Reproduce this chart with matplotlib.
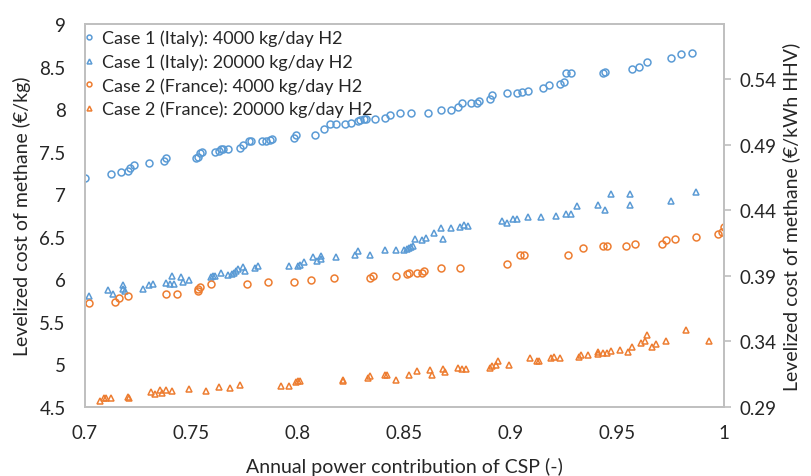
"""Levelized cost of methane vs annual CSP power contribution (4 cases)."""
import numpy as np
import matplotlib
matplotlib.use('Agg')
import matplotlib.pyplot as plt

plt.rcParams['font.family'] = ['Lato', 'DejaVu Sans']

BLUE = '#5B9BD5'
ORANGE = '#ED7D31'
TXT = '#262626'
GRID = '#BFBFBF'

## Case 1 (Italy): 4000 kg/day H2
italy_4000_x = [0.700, 0.712, 0.717, 0.720, 0.721, 0.723, 0.730, 0.737, 0.738, 0.752,
                0.753, 0.754, 0.755, 0.761, 0.763, 0.764, 0.765, 0.767, 0.773, 0.774,
                0.777, 0.778, 0.783, 0.785, 0.787, 0.788, 0.798, 0.799, 0.808, 0.812,
                0.815, 0.818, 0.822, 0.825, 0.828, 0.829, 0.831, 0.832, 0.836, 0.841,
                0.843, 0.848, 0.853, 0.861, 0.867, 0.872, 0.875, 0.877, 0.881, 0.884,
                0.885, 0.890, 0.891, 0.898, 0.903, 0.905, 0.908, 0.915, 0.918, 0.923,
                0.925, 0.926, 0.928, 0.943, 0.944, 0.957, 0.960, 0.964, 0.975, 0.980,
                0.985]
italy_4000_y = [7.19, 7.24, 7.26, 7.27, 7.31, 7.34, 7.37, 7.39, 7.42, 7.42,
                7.44, 7.48, 7.50, 7.50, 7.51, 7.53, 7.53, 7.53, 7.54, 7.58,
                7.62, 7.63, 7.63, 7.63, 7.64, 7.65, 7.66, 7.70, 7.70, 7.77,
                7.82, 7.82, 7.83, 7.84, 7.86, 7.87, 7.88, 7.88, 7.88, 7.90,
                7.93, 7.96, 7.96, 7.96, 7.99, 7.99, 8.03, 8.07, 8.07, 8.07,
                8.09, 8.12, 8.17, 8.19, 8.19, 8.20, 8.21, 8.25, 8.28, 8.30,
                8.32, 8.43, 8.43, 8.42, 8.44, 8.47, 8.49, 8.55, 8.60, 8.65,
                8.66]

## Case 1 (Italy): 20000 kg/day H2
italy_20000_x = [0.702, 0.711, 0.713, 0.718, 0.718, 0.719, 0.727, 0.730, 0.732, 0.738,
                 0.741, 0.740, 0.742, 0.745, 0.746, 0.749, 0.759, 0.760, 0.761, 0.764,
                 0.767, 0.769, 0.770, 0.771, 0.772, 0.774, 0.775, 0.780, 0.781, 0.796,
                 0.800, 0.801, 0.803, 0.807, 0.809, 0.811, 0.811, 0.818, 0.827, 0.828,
                 0.834, 0.841, 0.846, 0.850, 0.851, 0.852, 0.853, 0.854, 0.855, 0.858,
                 0.860, 0.864, 0.867, 0.868, 0.872, 0.876, 0.878, 0.880, 0.896, 0.898,
                 0.901, 0.903, 0.908, 0.914, 0.921, 0.926, 0.928, 0.931, 0.941, 0.944,
                 0.947, 0.956, 0.956, 0.975, 0.987]
italy_20000_y = [5.80, 5.88, 5.83, 5.93, 5.89, 5.86, 5.89, 5.93, 5.94, 5.96,
                 6.04, 5.94, 5.94, 6.03, 5.97, 5.99, 6.03, 6.04, 6.04, 6.07,
                 6.05, 6.06, 6.07, 6.10, 6.12, 6.15, 6.10, 6.13, 6.16, 6.16,
                 6.16, 6.17, 6.20, 6.26, 6.21, 6.27, 6.24, 6.26, 6.29, 6.33,
                 6.29, 6.34, 6.34, 6.35, 6.36, 6.37, 6.38, 6.39, 6.47, 6.46,
                 6.48, 6.54, 6.60, 6.47, 6.60, 6.61, 6.64, 6.63, 6.69, 6.66,
                 6.71, 6.71, 6.73, 6.73, 6.74, 6.77, 6.77, 6.86, 6.87, 6.81,
                 7.00, 6.87, 7.00, 6.92, 7.03]

## Case 2 (France): 4000 kg/day H2
france_4000_x = [0.702, 0.714, 0.716, 0.720, 0.738, 0.743, 0.753, 0.753, 0.754, 0.759,
                 0.776, 0.786, 0.798, 0.806, 0.817, 0.834, 0.835, 0.846, 0.851, 0.852,
                 0.856, 0.858, 0.859, 0.867, 0.876, 0.898, 0.904, 0.906, 0.927, 0.934,
                 0.943, 0.945, 0.954, 0.958, 0.971, 0.973, 0.977, 0.987, 0.997, 0.999,
                 1.000]
france_4000_y = [5.72, 5.73, 5.78, 5.80, 5.83, 5.83, 5.86, 5.89, 5.91, 5.94,
                 5.94, 5.97, 5.97, 5.99, 6.01, 6.01, 6.04, 6.04, 6.06, 6.08,
                 6.08, 6.08, 6.10, 6.13, 6.13, 6.18, 6.28, 6.29, 6.29, 6.37,
                 6.39, 6.39, 6.39, 6.41, 6.42, 6.46, 6.47, 6.50, 6.53, 6.56,
                 6.61]

## Case 2 (France): 20000 kg/day H2
france_20000_x = [0.707, 0.709, 0.710, 0.712, 0.720, 0.7205, 0.731, 0.733, 0.735, 0.736,
                  0.738, 0.741, 0.749, 0.757, 0.763, 0.768, 0.773, 0.792, 0.796, 0.799,
                  0.800, 0.801, 0.821, 0.821, 0.833, 0.834, 0.841, 0.842, 0.846, 0.852,
                  0.856, 0.862, 0.863, 0.868, 0.869, 0.875, 0.877, 0.879, 0.890, 0.891,
                  0.893, 0.894, 0.899, 0.909, 0.912, 0.913, 0.919, 0.920, 0.923, 0.932,
                  0.933, 0.936, 0.941, 0.941, 0.943, 0.945, 0.947, 0.951, 0.955, 0.957,
                  0.961, 0.963, 0.964, 0.966, 0.968, 0.973, 0.982, 0.993]
france_20000_y = [4.57, 4.60, 4.60, 4.60, 4.62, 4.61, 4.68, 4.65, 4.70, 4.67,
                  4.70, 4.69, 4.71, 4.69, 4.74, 4.72, 4.76, 4.75, 4.75, 4.79,
                  4.81, 4.80, 4.82, 4.80, 4.84, 4.86, 4.87, 4.88, 4.82, 4.88,
                  4.92, 4.94, 4.88, 4.95, 4.91, 4.96, 4.95, 4.95, 4.96, 4.98,
                  4.99, 5.04, 4.99, 5.07, 5.04, 5.04, 5.07, 5.09, 5.07, 5.09,
                  5.11, 5.11, 5.12, 5.15, 5.13, 5.14, 5.16, 5.17, 5.15, 5.20,
                  5.25, 5.27, 5.35, 5.20, 5.24, 5.27, 5.40, 5.28]

y_ticks = [4.5, 5, 5.5, 6, 6.5, 7, 7.5, 8, 8.5, 9]
y_tick_labels = ['4.5', '5', '5.5', '6', '6.5', '7', '7.5', '8', '8.5', '9']
x_ticks = [0.7, 0.75, 0.8, 0.85, 0.9, 0.95, 1.0]
x_tick_labels = ['0.7', '0.75', '0.8', '0.85', '0.9', '0.95', '1']
right_ticks = [0.29, 0.34, 0.39, 0.44, 0.49, 0.54]

fig = plt.figure(figsize=(8.11, 4.77), dpi=100)
ax = fig.add_axes([0.1048, 0.1447, 0.7879, 0.8029])

mk = dict(linestyle='none', markersize=5, markerfacecolor='none', markeredgewidth=1.1)
ax.plot(italy_4000_x, italy_4000_y, marker='o', color=BLUE, label='Case 1 (Italy): 4000 kg/day H2', **mk)
ax.plot(italy_20000_x, italy_20000_y, marker='^', color=BLUE, label='Case 1 (Italy): 20000 kg/day H2', **mk)
ax.plot(france_4000_x, france_4000_y, marker='o', color=ORANGE, label='Case 2 (France): 4000 kg/day H2', **mk)
ax.plot(france_20000_x, france_20000_y, marker='^', color=ORANGE, label='Case 2 (France): 20000 kg/day H2', **mk)

ax.set_xlim(0.7, 1.0)
ax.set_ylim(4.5, 9)
ax.set_xticks(x_ticks)
ax.set_xticklabels(x_tick_labels)
ax.set_yticks(y_ticks)
ax.set_yticklabels(y_tick_labels)
ax.tick_params(axis='x', length=0, labelsize=13.5, colors=TXT, pad=12)
ax.tick_params(axis='y', length=0, labelsize=13.5, colors=TXT, pad=14)
for s in ax.spines.values():
    s.set_color(GRID)
    s.set_linewidth(1.2)
ax.set_xlabel('Annual power contribution of CSP (-)', fontsize=14, color=TXT, labelpad=12)
ax.set_ylabel('Levelized cost of methane (€/kg)', fontsize=14, color=TXT, labelpad=6)

## secondary axis: same cost in €/kWh HHV
ax2 = ax.twinx()
ax2.set_ylim(0.29, 0.582)
ax2.set_yticks(right_ticks)
ax2.set_yticklabels([f'{t:.2f}' for t in right_ticks])
ax2.tick_params(length=5, width=1.2, color=GRID, labelsize=13.5, labelcolor=TXT, pad=6)
for s in ax2.spines.values():
    s.set_color(GRID)
    s.set_linewidth(1.2)
ax2.set_ylabel('Levelized cost of methane (€/kWh HHV)', fontsize=14, color=TXT, labelpad=4)

leg = ax.legend(loc='upper left', frameon=False, fontsize=13, handlelength=0.4,
                handletextpad=0.5, labelspacing=0.4, borderaxespad=0.0, borderpad=0.2,
                markerscale=0.7, bbox_to_anchor=(-0.005, 0.995))
for t in leg.get_texts():
    t.set_color(TXT)

fig.savefig('out.png', dpi=100)
